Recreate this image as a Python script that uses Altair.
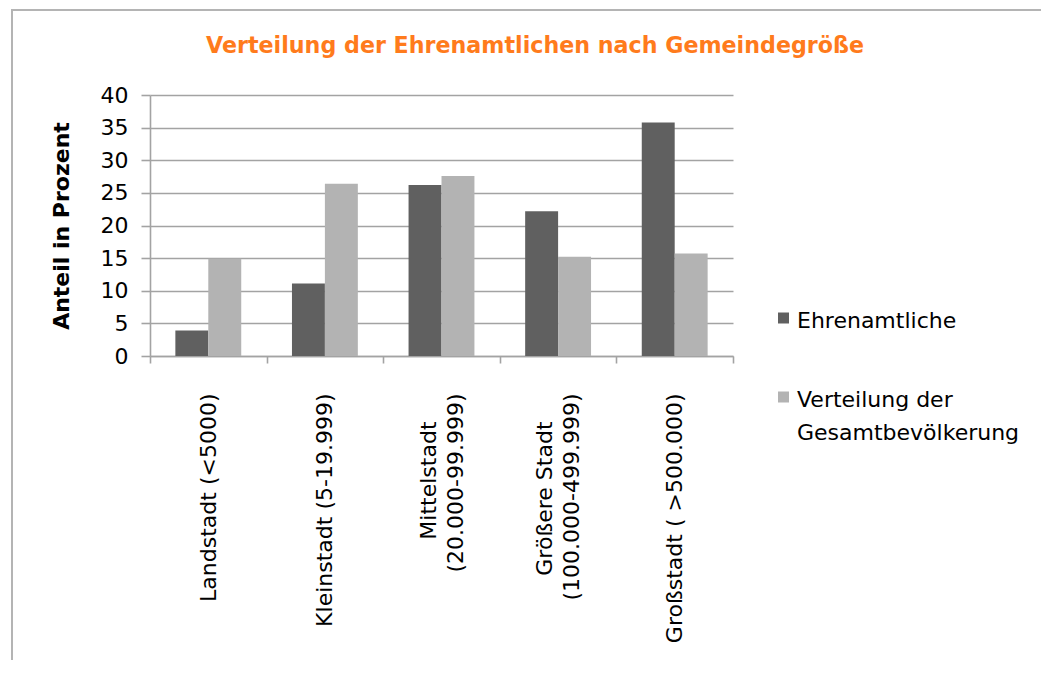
import json
import altair as alt
import pandas as pd

NB = "\u00a0"      # non-breaking space (padding to centre the shorter line)
ZW = "\u200b"      # zero-width space: keeps padding and blank rows from vanishing
BLANK = ZW + NB + ZW

# ---------------- data ----------------
categories = [
    "Landstadt (<5000)",
    "Kleinstadt (5-19.999)",
    "Mittelstadt (20.000-99.999)",
    "Größere Stadt (100.000-499.999)",
    "Großstadt ( >500.000)",
]
# three half-height rows per label: single labels sit in the middle row,
# two-line labels use the outer rows, so every label is centred on its band
category_label_lines = [
    [BLANK, "Landstadt (<5000)", BLANK],
    [BLANK, "Kleinstadt (5-19.999)", BLANK],
    ["Mittelstadt" + NB * 4 + ZW, BLANK, "(20.000-99.999)"],
    ["Größere Stadt" + NB * 4 + ZW, BLANK, "(100.000-499.999)"],
    [BLANK, "Großstadt ( >500.000)", BLANK],
]
series = ["Ehrenamtliche", "Verteilung der Gesamtbevölkerung"]
series_label_lines = [["Ehrenamtliche"], ["Verteilung der", "Gesamtbevölkerung"]]
ehrenamtliche = [3.9, 11.1, 26.2, 22.2, 35.8]
gesamtbevoelkerung = [14.9, 26.4, 27.6, 15.2, 15.7]
y_ticks = [0, 5, 10, 15, 20, 25, 30, 35, 40]
title_text = "Verteilung der Ehrenamtlichen nach Gemeindegröße"
y_title = "Anteil in Prozent"
bar_colors = ["#606060", "#b3b3b3"]

# ---------------- build tables ----------------
rows = []
for i, cat in enumerate(categories):
    rows.append({"kategorie": cat, "reihe": series[0], "wert": ehrenamtliche[i]})
    rows.append({"kategorie": cat, "reihe": series[1], "wert": gesamtbevoelkerung[i]})
bars_df = pd.DataFrame(rows)

legend_values = [{"reihe": s, "zeilen": l} for s, l in zip(series, series_label_lines)]

lines_json = json.dumps(category_label_lines, ensure_ascii=False)
cats_json = json.dumps(categories, ensure_ascii=False)
label_expr = "%s[indexof(%s, datum.label)]" % (lines_json, cats_json)

FONT = "DejaVu Sans"
GRID = "#a3a3a3"
LINE_W = 1.6
HALF_LH = 13.5
FRAME = "#b4b4b4"

color_scale = alt.Scale(domain=series, range=bar_colors)

frame_df = pd.DataFrame({"f": [0]})
frame_top = alt.Chart(frame_df).mark_rule(stroke=FRAME, strokeWidth=2).encode(
    x=alt.value(-139), x2=alt.value(1100), y=alt.value(-85)
)
frame_left = alt.Chart(frame_df).mark_rule(stroke=FRAME, strokeWidth=2).encode(
    x=alt.value(-138), y=alt.value(-86), y2=alt.value(700)
)

bars = alt.Chart(bars_df).mark_bar().encode(
    x=alt.X(
        "kategorie:N",
        sort=categories,
        scale=alt.Scale(paddingInner=0, paddingOuter=0),
        axis=alt.Axis(
            title=None,
            labelExpr=label_expr,
            labelAngle=-90,
            labelAlign="right",
            labelBaseline="middle",
            labelFont=FONT,
            labelFontSize=22,
            labelColor="#000000",
            labelLineHeight=HALF_LH,
            labelOffset=-HALF_LH,
            labelPadding=30,
            labelLimit=500,
            labelOverlap=False,
            tickSize=7,
            tickColor=GRID,
            tickWidth=LINE_W,
            tickBand="extent",
            domainColor=GRID,
            domainWidth=LINE_W,
            grid=False,
        ),
    ),
    xOffset=alt.XOffset(
        "reihe:N", sort=series, scale=alt.Scale(paddingInner=0, paddingOuter=0.77)
    ),
    y=alt.Y(
        "wert:Q",
        scale=alt.Scale(domain=[0, 40], nice=False),
        axis=alt.Axis(
            title=y_title,
            values=y_ticks,
            grid=True,
            gridColor=GRID,
            gridWidth=LINE_W,
            domainColor=GRID,
            domainWidth=LINE_W,
            tickColor=GRID,
            tickWidth=LINE_W,
            tickSize=9,
            labelFont=FONT,
            labelFontSize=22,
            labelColor="#000000",
            labelPadding=13,
            titleFont=FONT,
            titleFontSize=22,
            titleFontWeight="bold",
            titleColor="#000000",
            titleAngle=270,
            titleAlign="center",
            titleBaseline="middle",
            titleX=-89,
            titleY=130.5,
        ),
    ),
    color=alt.Color("reihe:N", scale=color_scale, legend=None),
)

legend_y = alt.Y(
    "reihe:N",
    sort=series,
    scale=alt.Scale(type="point", range=[223, 302], padding=0),
    axis=None,
)

legend_sq = alt.Chart(alt.Data(values=legend_values)).mark_square(
    size=121, opacity=1
).encode(
    x=alt.value(633.5),
    y=legend_y,
    color=alt.Color("reihe:N", scale=color_scale, legend=None),
)

legend_txt = alt.Chart(alt.Data(values=legend_values)).mark_text(
    align="left", baseline="alphabetic", dy=10, fontSize=22, lineHeight=33,
    font=FONT, color="#000000"
).encode(
    x=alt.value(647),
    y=legend_y,
    text=alt.Text("zeilen:N"),
)

chart = (
    alt.layer(frame_top, frame_left, bars, legend_sq, legend_txt)
    .resolve_scale(y="independent")
    .properties(
        width=583,
        height=261,
        padding={"left": 142, "top": 87, "right": 308, "bottom": 304},
        autosize=alt.AutoSizeParams(type="none"),
        title=alt.TitleParams(
            text=title_text,
            font=FONT,
            fontSize=22.2,
            fontWeight="bold",
            color="#FF7B1C",
            anchor="middle",
            frame="group",
            baseline="alphabetic",
            offset=0,
            dx=93.5,
            dy=67,
        ),
    )
    .configure(background="white", font=FONT)
    .configure_view(stroke=None)
)

chart.save("out.html", embed_options={"renderer": "svg", "actions": False})
